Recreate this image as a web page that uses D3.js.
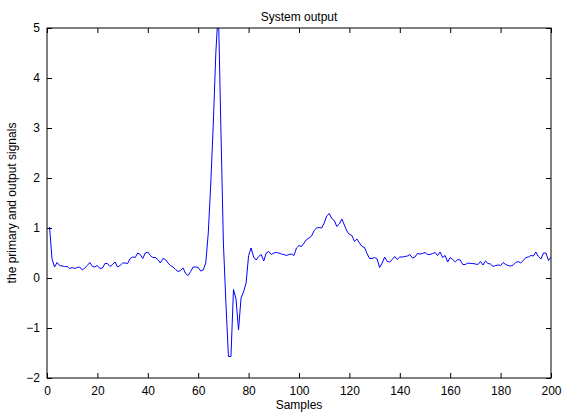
<!DOCTYPE html>
<html>
<head>
<meta charset="utf-8">
<script src="https://cdn.jsdelivr.net/npm/d3@7"></script>
<style>
  body { margin: 0; background: #fff; }
  svg { display: block; font-family: "Liberation Sans", Arial, sans-serif; }
</style>
</head>
<body>
<svg></svg>
<script>
'use strict';

const samples = d3.range(1, 201);
const output = [
  1.02, 0.38, 0.22, 0.31, 0.25, 0.24, 0.23, 0.23, 0.19, 0.21,
  0.19, 0.21, 0.22, 0.16, 0.20, 0.25, 0.31, 0.23, 0.22, 0.25,
  0.19, 0.20, 0.29, 0.29, 0.23, 0.27, 0.32, 0.22, 0.25, 0.30,
  0.30, 0.29, 0.39, 0.42, 0.41, 0.50, 0.47, 0.39, 0.50, 0.52,
  0.45, 0.41, 0.41, 0.37, 0.30, 0.39, 0.37, 0.30, 0.25, 0.22,
  0.17, 0.13, 0.15, 0.20, 0.09, 0.05, 0.13, 0.22, 0.22, 0.21,
  0.14, 0.16, 0.30, 0.90, 1.90, 3.10, 4.50, 5.40, 3.00, 0.70,
  -0.50, -1.57, -1.57, -0.23, -0.42, -1.04, -0.40, -0.28, -0.10, 0.45,
  0.60, 0.42, 0.36, 0.43, 0.47, 0.34, 0.50, 0.53, 0.47, 0.50,
  0.51, 0.50, 0.48, 0.47, 0.45, 0.47, 0.48, 0.45, 0.60, 0.65,
  0.63, 0.70, 0.77, 0.80, 0.84, 0.95, 1.00, 1.01, 1.00, 1.10,
  1.24, 1.29, 1.19, 1.15, 1.03, 1.08, 1.18, 1.06, 0.94, 0.87,
  0.85, 0.73, 0.78, 0.70, 0.63, 0.61, 0.49, 0.39, 0.39, 0.41,
  0.38, 0.21, 0.30, 0.42, 0.33, 0.32, 0.37, 0.43, 0.37, 0.42,
  0.42, 0.43, 0.44, 0.47, 0.40, 0.42, 0.49, 0.48, 0.49, 0.51,
  0.47, 0.47, 0.49, 0.51, 0.45, 0.52, 0.41, 0.45, 0.32, 0.41,
  0.37, 0.32, 0.37, 0.36, 0.27, 0.27, 0.30, 0.29, 0.29, 0.28,
  0.27, 0.33, 0.26, 0.34, 0.29, 0.28, 0.23, 0.25, 0.26, 0.25,
  0.31, 0.27, 0.25, 0.24, 0.26, 0.31, 0.33, 0.30, 0.35, 0.41,
  0.42, 0.45, 0.44, 0.52, 0.43, 0.38, 0.50, 0.50, 0.35, 0.42
];
const xTicks = d3.range(0, 201, 20);
const yTicks = d3.range(-2, 6, 1);

const width = 568, height = 413;
const margin = { top: 28, right: 17, bottom: 35, left: 47 };
const innerW = width - margin.left - margin.right;
const innerH = height - margin.top - margin.bottom;

const svg = d3.select("svg")
  .attr("width", width)
  .attr("height", height);

const x = d3.scaleLinear().domain([0, 200]).range([0, innerW]);
const y = d3.scaleLinear().domain([-2, 5]).range([innerH, 0]);

const g = svg.append("g").attr("transform", `translate(${margin.left},${margin.top})`);

g.append("clipPath").attr("id", "plot-clip")
  .append("rect").attr("width", innerW).attr("height", innerH);

// ticks point inward, like matlab
const tickLen = 5;
g.append("g")
  .attr("transform", `translate(0,${innerH})`)
  .call(d3.axisBottom(x).tickValues(xTicks).tickSize(-tickLen).tickPadding(8).tickSizeOuter(0))
  .call(a => a.select(".domain").remove());
g.append("g")
  .call(d3.axisTop(x).tickValues(xTicks).tickSize(-tickLen).tickFormat("").tickSizeOuter(0))
  .call(a => a.select(".domain").remove());
g.append("g")
  .call(d3.axisLeft(y).tickValues(yTicks).tickSize(-tickLen).tickPadding(7)
    .tickFormat(d3.format("d")).tickSizeOuter(0))
  .call(a => a.select(".domain").remove());
g.append("g")
  .attr("transform", `translate(${innerW},0)`)
  .call(d3.axisRight(y).tickValues(yTicks).tickSize(-tickLen).tickFormat("").tickSizeOuter(0))
  .call(a => a.select(".domain").remove());

g.selectAll(".tick text")
  .style("font-size", "12px")
  .attr("fill", "#000");
g.selectAll(".tick line").attr("stroke", "#000");

const line = d3.line()
  .x((d, i) => x(samples[i]))
  .y(d => y(d));

g.append("path")
  .datum(output)
  .attr("clip-path", "url(#plot-clip)")
  .attr("fill", "none")
  .attr("stroke", "#0000ff")
  .attr("stroke-width", 1)
  .attr("d", line);

g.append("rect")
  .attr("width", innerW)
  .attr("height", innerH)
  .attr("fill", "none")
  .attr("stroke", "#000")
  .attr("stroke-width", 1);

svg.append("text")
  .attr("x", margin.left + innerW / 2)
  .attr("y", 21)
  .attr("text-anchor", "middle")
  .style("font-size", "12px")
  .text("System output");

svg.append("text")
  .attr("x", margin.left + innerW / 2)
  .attr("y", 409)
  .attr("text-anchor", "middle")
  .style("font-size", "12px")
  .text("Samples");

svg.append("text")
  .attr("transform", `translate(16,${margin.top + innerH / 2}) rotate(-90)`)
  .attr("text-anchor", "middle")
  .style("font-size", "12px")
  .text("the primary and output signals");
</script>
</body>
</html>
